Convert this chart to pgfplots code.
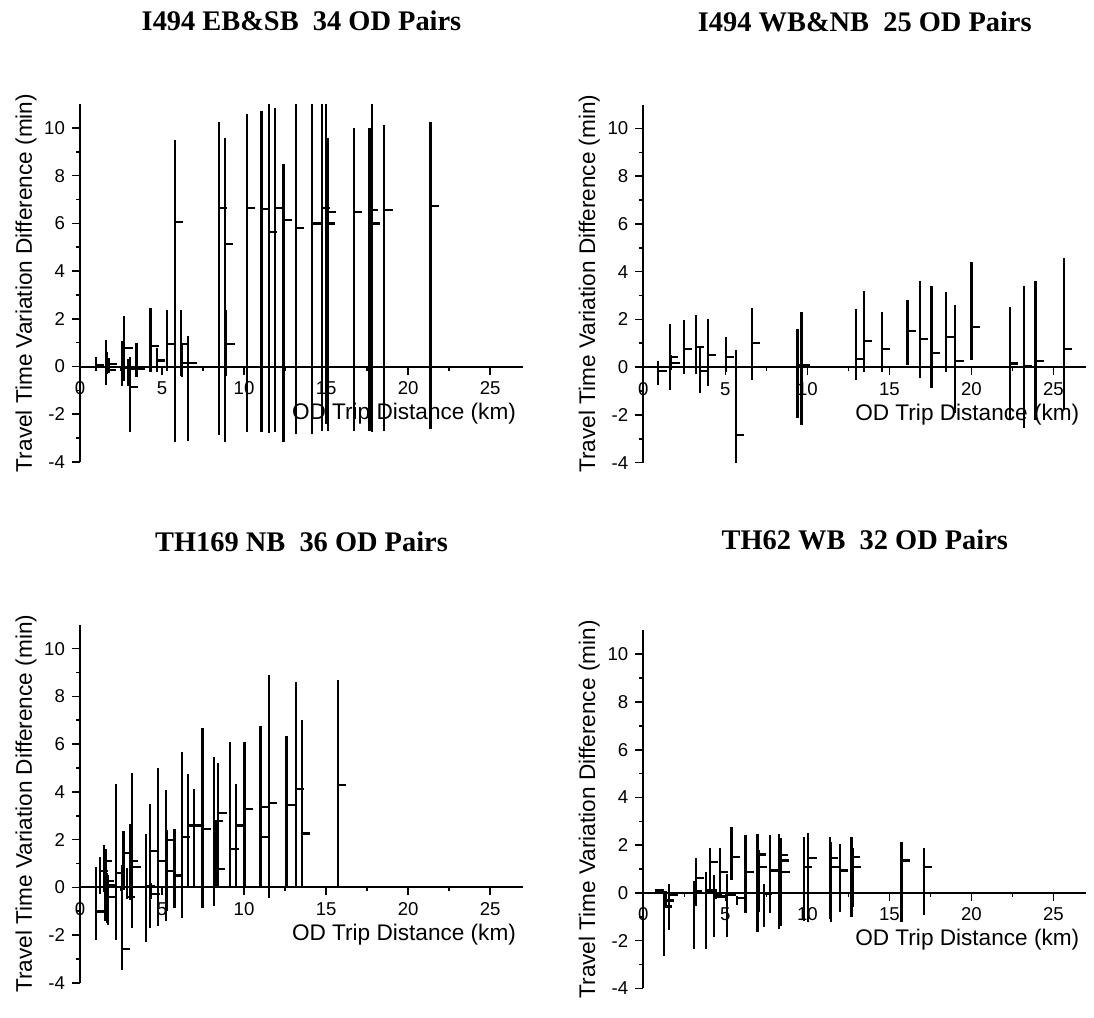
\documentclass[border=0pt]{standalone}
\usepackage{fontspec}
\setmainfont{Liberation Sans}
\newfontfamily\titlefont{Liberation Serif}
\usepackage{pgfplots}
\pgfplotsset{compat=1.18}
\usepackage{pgfplotstable}

% x, lowest, highest, mean (min)
\pgfplotstableread{
x lo hi mean
0.98 -0.17 0.40 0.05
1.58 -0.77 1.10 0.10
1.66 -0.30 0.60 -0.15
1.74 -0.25 0.35 0.10
2.56 -0.80 1.06 -0.05
2.70 -0.60 2.10 0.77
2.93 -0.80 0.32 -0.10
3.03 -2.76 0.40 -0.87
3.44 -0.45 1.00 -0.10
4.30 -0.24 2.46 0.85
4.67 -0.24 0.78 0.25
5.28 -0.17 2.38 0.93
5.77 -3.17 9.50 6.07
6.14 -0.38 2.38 0.95
6.24 -0.45 1.00 0.15
6.60 -3.10 1.27 0.15
8.45 -2.85 10.25 6.65
8.83 -3.17 9.58 5.12
8.91 -0.38 2.38 0.93
10.18 -2.75 10.60 6.65
11.06 -2.75 10.70 6.60
11.50 -2.80 11.00 5.65
11.90 -2.75 10.85 6.65
12.40 -3.17 8.50 6.15
13.17 -2.82 11.00 5.80
14.15 -2.82 11.00 5.99
14.74 -2.70 11.00 6.64
15.00 -2.40 11.00 5.99
15.10 -2.70 9.58 6.48
16.69 -2.70 10.01 6.48
17.65 -2.70 10.00 6.57
17.80 -2.76 11.00 5.99
18.55 -2.68 10.10 6.57
21.36 -2.60 10.25 6.71
}\tabEB

\pgfplotstableread{
x lo hi mean
0.91 -0.73 0.25 -0.17
1.62 -0.94 1.80 0.42
1.70 -0.10 0.50 0.17
2.48 -0.27 1.96 0.77
3.21 -0.27 2.20 0.85
3.45 -1.10 0.81 -0.17
3.92 -0.77 2.03 0.50
5.03 -0.20 1.28 0.42
5.64 -4.00 0.72 -2.86
6.62 -0.52 2.47 1.02
9.40 -2.13 1.60 0.07
9.64 -2.41 2.29 0.07
12.95 -0.52 2.45 0.35
13.44 -0.21 3.21 1.09
14.54 -0.21 2.29 0.77
16.10 0.11 2.80 1.51
16.85 -0.45 3.63 1.19
17.56 -0.87 3.38 0.60
18.44 -0.21 3.13 1.26
19.02 -1.92 2.62 0.25
20.00 0.29 4.39 1.68
22.33 -2.20 2.50 0.15
23.19 -2.55 3.38 0.03
23.90 -2.20 3.63 0.25
25.62 -1.78 4.56 0.77
}\tabWB

\pgfplotstableread{
x lo hi mean
0.98 -2.20 0.84 -1.01
1.22 -0.27 1.26 0.67
1.45 -0.21 1.78 1.09
1.55 -1.43 1.61 0.25
1.65 -1.50 0.60 -0.41
1.72 -1.57 0.53 0.10
2.18 -2.20 4.32 0.60
2.55 -3.46 0.93 -2.60
2.65 -0.10 2.36 1.44
2.85 -0.50 0.80 -0.41
3.05 -0.52 2.64 1.09
3.18 -1.71 4.81 0.84
4.03 -2.27 2.22 0.07
4.28 -1.71 3.48 1.51
4.35 -0.50 0.20 -0.27
4.75 -1.60 4.98 1.09
5.25 -1.43 4.07 2.00
5.30 -1.00 2.40 0.67
5.76 -0.87 2.45 0.50
6.21 -1.29 5.65 2.10
6.58 0.04 4.74 2.59
6.97 0.04 4.14 2.59
7.47 -0.87 6.68 2.45
8.19 -0.77 5.48 2.78
8.30 0.04 2.78 0.77
8.43 0.04 5.23 3.13
9.16 0.04 6.07 1.61
9.53 0.04 4.32 2.59
10.02 0.04 6.07 3.27
11.00 0.04 6.75 2.10
11.05 0.04 6.70 3.37
11.50 -0.45 8.88 3.55
12.58 0.04 6.33 3.45
13.17 0.04 8.60 4.11
13.53 0.04 7.01 2.26
15.73 0.04 8.70 4.29
}\tabTH

\pgfplotstableread{
x lo hi mean
0.75 -0.05 0.15 0.10
1.26 -2.63 0.10 -0.57
1.35 -0.50 0.10 -0.32
1.58 -1.54 0.38 -0.08
3.09 -2.35 0.48 0.06
3.20 -0.53 1.45 0.62
3.82 -2.35 0.87 0.10
4.06 0.10 1.87 1.29
4.30 -1.86 0.77 -0.11
4.45 -0.25 0.15 -0.15
4.67 -0.18 1.87 0.87
5.11 -1.86 0.80 -0.08
5.38 0.56 2.76 1.52
5.72 -0.50 -0.11 -0.22
6.23 -0.84 2.43 0.87
6.96 -1.62 2.45 1.61
7.05 -0.80 1.80 1.10
7.35 -1.44 0.38 -0.05
7.71 -0.84 2.43 0.94
8.28 -1.51 2.45 1.59
8.36 -1.40 2.30 1.36
8.40 -1.20 1.90 0.87
9.80 -1.16 2.34 1.10
10.05 -1.23 2.52 1.45
11.37 -1.10 2.34 1.45
11.43 -1.23 2.13 1.10
11.98 -0.78 2.06 0.94
12.69 -1.02 2.36 1.52
12.75 -0.60 1.90 1.10
15.74 -1.23 2.13 1.36
17.10 -0.92 1.87 1.10
}\tabSixtyTwo

% short stroke to the right of the bar for the mean
\pgfdeclareplotmark{meantick}{%
  \pgfpathmoveto{\pgfpointorigin}%
  \pgfpathlineto{\pgfpoint{4.2pt}{0pt}}%
  \pgfusepathqstroke}

\pgfplotsset{
  odpanel/.style={
    scale only axis,
    width=221.5pt, height=179pt,
    xmin=0, xmax=27, ymin=-4, ymax=11,
    axis x line=middle, axis y line=left,
    axis line style={-, line width=1pt},
    xtick={0,5,...,25}, ytick={-4,-2,...,10},
    minor x tick num=1, minor y tick num=1,
    major tick length=4pt, minor tick length=2pt,
    tick style={line width=0.8pt, black},
    tick align=outside,
    hide obscured x ticks=false, hide obscured y ticks=false,
    /pgf/number format/assume math mode=true,
    ticklabel style={font=\fontsize{9.3}{11}\selectfont},
    xlabel={OD Trip Distance (km)},
    ylabel={Travel Time Variation Difference (min)},
    label style={font=\fontsize{11.3}{13}\selectfont},
    xlabel style={at={(axis description cs:1.0,0.135)}, anchor=east},
    ylabel style={at={(axis description cs:-0.122,0.5)}, anchor=center},
    every axis title shift=0pt,
    title style={at={(axis description cs:0.5,1.232)}, anchor=center,
      font=\fontsize{14.2}{16}\selectfont\titlefont\bfseries},
  },
  odbars/.style={
    only marks, mark=meantick, black,
    mark options={solid, line width=1.1pt},
    error bars/.cd, y dir=both, y explicit, error mark=none,
    error bar style={line width=1.1pt, black},
  },
}

\begin{document}
\begin{tikzpicture}

\begin{axis}[odpanel, at={(40pt,-231pt)}, anchor=south west,
    title={I494 EB\&SB\ \ 34 OD Pairs}]
\addplot[odbars] table[x=x, y=mean,
    y error plus expr=\thisrow{hi}-\thisrow{mean},
    y error minus expr=\thisrow{mean}-\thisrow{lo}] {\tabEB};
\end{axis}

\begin{axis}[odpanel, at={(321.65pt,-231.3pt)}, anchor=south west,
    title={I494 WB\&NB\ \ 25 OD Pairs}]
\addplot[odbars] table[x=x, y=mean,
    y error plus expr=\thisrow{hi}-\thisrow{mean},
    y error minus expr=\thisrow{mean}-\thisrow{lo}] {\tabWB};
\end{axis}

\begin{axis}[odpanel, at={(40pt,-491.4pt)}, anchor=south west,
    title={TH169 NB\ \ 36 OD Pairs}]
\addplot[odbars] table[x=x, y=mean,
    y error plus expr=\thisrow{hi}-\thisrow{mean},
    y error minus expr=\thisrow{mean}-\thisrow{lo}] {\tabTH};
\end{axis}

\begin{axis}[odpanel, at={(321.65pt,-494.2pt)}, anchor=south west,
    title={TH62 WB\ \ 32 OD Pairs},
    title style={at={(axis description cs:0.5,1.254)}}]
\addplot[odbars] table[x=x, y=mean,
    y error plus expr=\thisrow{hi}-\thisrow{mean},
    y error minus expr=\thisrow{mean}-\thisrow{lo}] {\tabSixtyTwo};
\end{axis}

\pgfresetboundingbox
\path[use as bounding box] (0pt,0pt) rectangle (547pt,-509pt);
\end{tikzpicture}
\end{document}
